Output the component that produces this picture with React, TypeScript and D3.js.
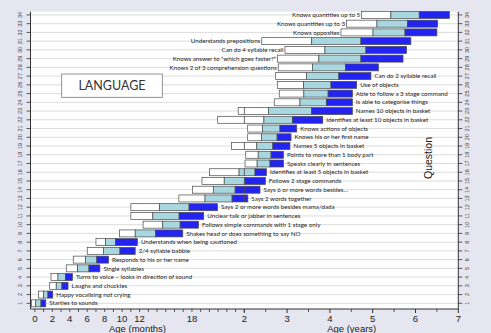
import React from "react";
import * as d3 from "d3";

// Language milestones, one per question row (1 = bottom)
const questions: string[] = [
  "Startles to sounds",
  "Happy vocalising not crying",
  "Laughs and chuckles",
  "Turns to voice – looks in direction of sound",
  "Single syllables",
  "Responds to his or her name",
  "2/4 syllable babble",
  "Understands when being cautioned",
  "Shakes head or does something to say NO",
  "Follows simple commands with 1 stage only",
  "Unclear talk or jabber in sentences",
  "Says 2 or more words besides mama/dada",
  "Says 2 words together",
  "Says 6 or more words besides…",
  "Follows 2 stage commands",
  "Identifies at least 5 objects in basket",
  "Speaks clearly in sentences",
  "Points to more than 1 body part",
  "Names 5 objects in basket",
  "Knows his or her first name",
  "Knows actions of objects",
  "Identifies at least 10 objects in basket",
  "Names 10 objects in basket",
  "Is able to categorise things",
  "Able to follow a 3 stage command",
  "Use of objects",
  "Can do 2 syllable recall",
  "Knows 2 of 3 comprehension questions",
  "Knows answer to \u201cwhich goes faster?\u201d",
  "Can do 4 syllable recall",
  "Understands prepositions",
  "Knows opposites",
  "Knows quantities up to 3",
  "Knows quantities up to 5",
];

// Age in months at which each band begins and ends, per question
const bandStart: number[] = [
  -0.4, 0.4, 1.7, 1.85, 3.6, 4.4, 6.0, 7.0, 9.7, 12.4, 11.0, 11.0, 16.5, 18.05, 19.15, 20.0, 24.2,
  24.4, 22.55, 24.95, 24.95, 20.95, 23.3, 32.4, 33.8, 33.25, 32.8, 33.5, 33.3, 35.4, 28.9, 51.1, 52.65, 56.9,
];
const whiteEnd: number[] = [
  0.1, 1.0, 2.45, 2.65, 4.9, 5.8, 7.85, 8.1, 11.5, 14.65, 13.52, 14.28, 19.5, 20.45, 21.7, 23.4, 27.6,
  27.9, 27.5, 28.8, 29.1, 29.5, 30.8, 39.6, 40.7, 40.6, 41.4, 43.1, 44.9, 46.6, 42.9, 60.1, 61.2, 65.1,
];
const lightEnd: number[] = [
  0.7, 1.5, 3.1, 3.5, 6.2, 7.1, 9.75, 9.25, 13.85, 16.65, 16.53, 17.67, 22.6, 22.95, 24.2, 27.0, 31.2,
  31.5, 32.0, 33.2, 34.0, 37.5, 42.9, 47.0, 47.5, 48.3, 50.5, 52.4, 56.7, 58.1, 56.7, 69.05, 69.75, 73.05,
];
const blueEnd: number[] = [
  1.25, 2.05, 3.8, 4.3, 7.45, 8.45, 11.5, 11.75, 16.95, 18.75, 19.35, 20.93, 25.0, 28.4, 29.9, 30.2, 35.0,
  35.0, 36.8, 37.1, 38.7, 46.0, 54.3, 54.3, 54.3, 55.5, 59.5, 61.6, 68.5, 69.5, 70.7, 78.0, 78.2, 81.5,
];
// Rows whose caption sits to the left of the bar
const labelLeft: boolean[] = questions.map((_, i) => i >= 27);

const monthTicks: number[] = [0, 2, 4, 6, 8, 10, 12, 18];
const yearTicks: number[] = [2, 3, 4, 5, 6, 7];

const W = 491;
const H = 333;
const BREAK = 24; // months: the axis switches from months to years here

const x = d3.scaleLinear().domain([-0.5, BREAK, 84]).range([30.5, 244.3, 458.3]);
const y = d3.scaleLinear().domain([0.35, 34.37]).range([309, 11.7]);

const C_BG = "#e5e6f0";
const C_LIGHT = "#a9d7e0";
const C_BLUE = "#2424f2";
const C_EDGE = "#4a4a4a";
const C_TEXT = "#262626";
const LABEL_FONT = "Lato, 'Open Sans', sans-serif";
const AXIS_FONT = "'Liberation Sans', Arial, sans-serif";

type Seg = { s: number; e: number; fill: string };

// Break a band at the month/year seam so each half is outlined separately
function splitAtBreak(seg: Seg): Seg[] {
  if (seg.s < BREAK && seg.e > BREAK) {
    return [
      { s: seg.s, e: BREAK, fill: seg.fill },
      { s: BREAK, e: seg.e, fill: seg.fill },
    ];
  }
  return [seg];
}

export default function App() {
  const barH = 7;
  const [x0, x1] = [x(-0.5), x(84)];
  const [yTop, yBot] = [y(34.37), y(0.35)];
  const rows = d3.range(1, questions.length + 1);

  const monthMinor = d3.range(0, BREAK + 1);
  const yearMinor = d3.range(2.5, 7, 1);

  return (
    <svg
      width={W}
      height={H}
      style={{ position: "fixed", left: 0, top: 0, background: C_BG }}
    >
      <rect x={0} y={0} width={W} height={H} fill={C_BG} />
      {/* plot area */}
      <rect x={x0} y={yTop} width={x1 - x0} height={yBot - yTop} fill="#ffffff" />

      {/* row grid lines */}
      {rows.map((r) => (
        <line key={"g" + r} x1={x0} x2={x1} y1={y(r)} y2={y(r)} stroke="#dcdcdc" strokeWidth={1} />
      ))}

      {/* bands */}
      {rows.map((r, i) => {
        const segs: Seg[] = [
          { s: bandStart[i], e: whiteEnd[i], fill: "#ffffff" },
          { s: whiteEnd[i], e: lightEnd[i], fill: C_LIGHT },
          { s: lightEnd[i], e: blueEnd[i], fill: C_BLUE },
        ].flatMap(splitAtBreak);
        const cy = y(r);
        return (
          <g key={"b" + r}>
            {segs.map((sg, k) => (
              <rect
                key={k}
                x={x(sg.s)}
                y={cy - barH / 2}
                width={Math.max(0, x(sg.e) - x(sg.s))}
                height={barH}
                fill={sg.fill}
                stroke={C_EDGE}
                strokeWidth={0.7}
              />
            ))}
            <text
              x={labelLeft[i] ? x(bandStart[i]) - 1.5 : x(blueEnd[i]) + 3.5}
              y={cy}
              dy="0.35em"
              textAnchor={labelLeft[i] ? "end" : "start"}
              fontFamily={LABEL_FONT}
              fontSize={6.2}
              fill={C_TEXT}
            >
              {questions[i]}
            </text>
          </g>
        );
      })}

      {/* LANGUAGE title box */}
      <rect x={61.7} y={74} width={100.6} height={23.3} fill="#ffffff" stroke="#777" strokeWidth={0.8} />
      <text
        x={112}
        y={85.7}
        dy="0.36em"
        textAnchor="middle"
        fontFamily={LABEL_FONT}
        fontSize={12.5}
        fill="#333"
      >
        LANGUAGE
      </text>

      {/* left axis */}
      <line x1={x0} x2={x0} y1={yTop} y2={yBot} stroke="#333" strokeWidth={1} />
      {rows.map((r) => (
        <g key={"l" + r}>
          <line x1={x0 - 4} x2={x0} y1={y(r)} y2={y(r)} stroke="#333" strokeWidth={0.8} />
          <text
            transform={`translate(${20},${y(r)}) rotate(-90)`}
            textAnchor="middle"
            dy="0.35em"
            fontFamily={AXIS_FONT}
            fontSize={5.5}
            fill="#444"
          >
            {r}
          </text>
        </g>
      ))}

      {/* right axis */}
      <line x1={x1} x2={x1} y1={yTop} y2={yBot} stroke="#333" strokeWidth={1} />
      {rows.map((r) => (
        <g key={"r" + r}>
          <line x1={x1} x2={x1 + 4} y1={y(r)} y2={y(r)} stroke="#333" strokeWidth={0.8} />
          <text
            transform={`translate(${467},${y(r)}) rotate(-90)`}
            textAnchor="middle"
            dy="0.35em"
            fontFamily={AXIS_FONT}
            fontSize={5.5}
            fill="#444"
          >
            {r}
          </text>
        </g>
      ))}
      <text
        transform={`translate(${428},${158}) rotate(-90)`}
        textAnchor="middle"
        dy="0.35em"
        fontFamily={AXIS_FONT}
        fontSize={10.5}
        fill="#222"
      >
        Question
      </text>

      {/* bottom axis */}
      <line x1={x0} x2={x1} y1={yBot} y2={yBot} stroke="#333" strokeWidth={1} />
      {monthMinor.map((m) => (
        <line key={"mm" + m} x1={x(m)} x2={x(m)} y1={yBot} y2={yBot + 3} stroke="#333" strokeWidth={0.8} />
      ))}
      {yearMinor.map((yr) => (
        <line key={"ym" + yr} x1={x(yr * 12)} x2={x(yr * 12)} y1={yBot} y2={yBot + 3} stroke="#333" strokeWidth={0.8} />
      ))}
      {yearTicks.map((yr) => (
        <line key={"yt" + yr} x1={x(yr * 12)} x2={x(yr * 12)} y1={yBot} y2={yBot + 4} stroke="#333" strokeWidth={1} />
      ))}
      {monthTicks.map((m) => (
        <text
          key={"mt" + m}
          x={x(m)}
          y={321.5}
          textAnchor="middle"
          fontFamily={AXIS_FONT}
          fontSize={9.5}
          fill="#222"
        >
          {m}
        </text>
      ))}
      {yearTicks.map((yr) => (
        <text
          key={"yl" + yr}
          x={x(yr * 12)}
          y={321.5}
          textAnchor="middle"
          fontFamily={AXIS_FONT}
          fontSize={9.5}
          fill="#222"
        >
          {yr}
        </text>
      ))}
      <text x={137.5} y={331.8} textAnchor="middle" fontFamily={AXIS_FONT} fontSize={9.5} fill="#222">
        Age (months)
      </text>
      <text x={351.7} y={331.8} textAnchor="middle" fontFamily={AXIS_FONT} fontSize={9.5} fill="#222">
        Age (years)
      </text>
    </svg>
  );
}
